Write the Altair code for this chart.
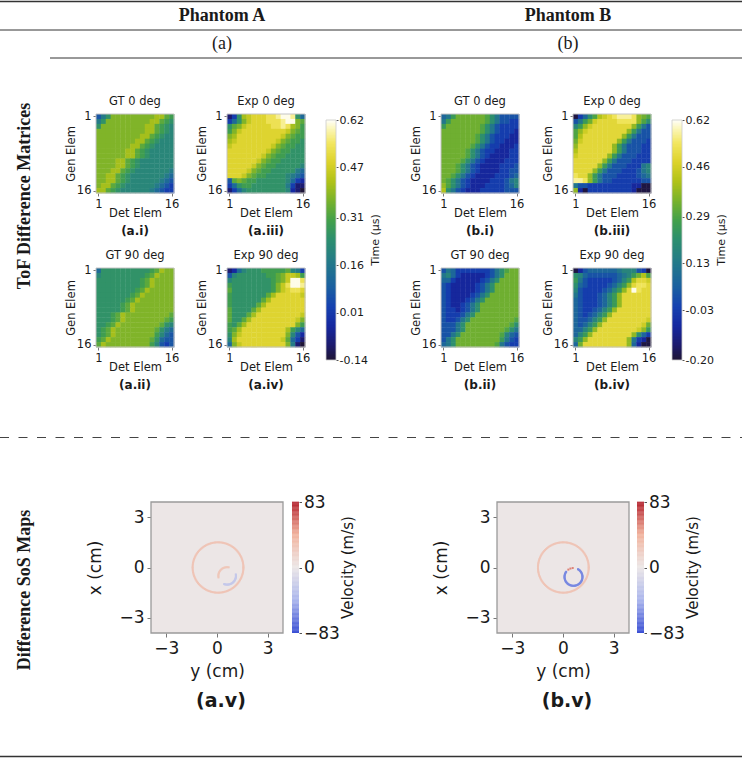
import numpy as np
import pandas as pd
import altair as alt

SANS = "DejaVu Sans"
SERIF = "Liberation Serif"
INK = "#1a1a1a"
W, H = 742, 758

# ---------------------------------------------------------------------------
# ToF difference matrices: one character per cell, rows = Gen Elem 1..16,
# columns = Det Elem 1..16.  LEVEL turns each character into microseconds.
# ---------------------------------------------------------------------------
LEVEL = {"0": -0.19, "1": -0.09, "2": -0.03, "3": 0.02, "4": 0.07, "5": 0.12,
         "6": 0.17, "7": 0.21, "8": 0.25, "9": 0.29, "a": 0.33, "b": 0.37,
         "c": 0.41, "d": 0.45, "e": 0.49, "f": 0.53, "g": 0.57, "h": 0.61}

A_GT0 = ["468b bbbb bbbb cca9", "68bb bbbb bbbc ca98", "8bbb bbbb bbcc a987",
         "bbbb bbbb bbcc a987", "bbbb bbbb bcca 9877", "bbbb bbbb cca9 8777",
         "bbbb bbbc ca98 7777", "bbbb bbcc a987 7777", "bbbb bbcc a987 7777",
         "bbbb cca9 8777 7777", "bbbb cca9 8777 7777", "bbbc ca98 7777 7776",
         "bbcc a987 7777 7765", "bbcc a987 7777 7654", "bcca 9877 7777 6543",
         "cca9 8777 7776 5433"]
A_GT90 = ["5888 8888 8889 acbb", "7888 8888 889a cbbb", "8888 8888 89ac bbbb",
          "8888 8888 89ac bbbb", "8888 8888 9acb bbbb", "8888 8889 acbb bbbb",
          "8888 889a cbbb bbbb", "8888 89ac bbbb bbbb", "8888 89ac bbbb bbbb",
          "8889 acbb bbbb bbba", "8889 acbb bbbb bba9", "889a cbbb bbbb ba87",
          "89ac bbbb bbbb a865", "89ac bbbb bbbb 9754", "9acb bbbb bbba 8544",
          "acbb bbbb bbb9 7434"]
A_EXP0 = ["138c deee ffgh hg85", "358b deee fffg hhba", "8abd eeee effg fcb9",
          "9bde eeee eeee dba9", "bcee eeee eeed ba99", "cdee eeee eedb a998",
          "deee eeee edba 9988", "eeee eeee dba9 9888", "eeee eeed ba99 8888",
          "eeee eedb a998 8888", "eeee edba 9988 8887", "eeee dba9 9888 8865",
          "eeed ba99 8888 7654", "4aba 9988 8888 7532", "3589 9888 8888 6311",
          "1357 8888 8888 7210"]
A_EXP90 = ["1257 8889 9999 a763", "4788 8888 99ab ddc9", "7888 8888 89ab dhhf",
           "9888 8888 89bd fhhg", "a888 8888 89bd effe", "9888 8888 acee eeed",
           "9888 888a ceee eeee", "9888 88ac eeee eeee", "a888 8ace eeee eeee",
           "a888 acee eeee eeed", "a88a ceee eeee eedb", "98ac eeee eeee eeb9",
           "9ace eeee eeee c975", "8bde eeee eeee b742", "7cee eeee eeed a531",
           "5bde eeee eeee b610"]

B_GT0 = ["458a aaaa a975 3333", "58aa aaaa a975 3322", "8aaa aaaa 9753 2222",
         "aaaa aaaa 9753 2221", "aaaa aaa9 7532 2211", "aaaa aaa9 7532 2111",
         "aaaa aa97 5322 1112", "aaaa a975 3221 1122", "aaaa a975 3211 1122",
         "aaaa 9753 2111 1222", "aaa9 7532 1111 2223", "aaa9 7532 1111 2233",
         "aa97 5321 1112 2234", "a975 3211 1122 2356", "b975 3211 1222 2346",
         "c753 2111 2222 2333"]
B_GT90 = ["3542 2222 2235 79aa", "5642 1111 1235 7aaa", "4421 1111 2357 aaaa",
          "3211 1112 357a aaaa", "3211 1112 357a aaaa", "3211 1123 57aa aaaa",
          "3211 1235 7aaa aaaa", "3211 2357 aaaa aaaa", "3221 2357 aaaa aaaa",
          "3222 357a aaaa aaaa", "3223 57aa aaaa aaa9", "3335 7aaa aaaa aa97",
          "3335 7aaa aaaa a975", "3357 aaaa aaaa 9643", "357a aaaa aaaa 8532",
          "457a aaaa aaa9 5322"]
B_EXP0 = ["0247 9cde fggg fba9", "358a deee efff fb97", "68bd eeee eeee b853",
          "9bde eeee eeeb 8533", "9cee eeee eeb8 5333", "adee eeee eb85 3332",
          "beee eeee b853 3322", "ceee eeee b853 3322", "deee eeeb 8533 3222",
          "eeee eeb8 5333 2222", "eeee eb85 3332 2256", "eeee b853 3322 2356",
          "feeb 8533 3222 2345", "ggfb 8533 2222 2233", "5332 2222 2222 1100",
          "b102 2222 2222 1000"]
B_EXP90 = ["0134 4444 4566 6320", "7643 3333 3456 8ac9", "8532 2222 3468 ceed",
           "7432 2223 468b effe", "6322 2234 68be hfee", "5322 2346 8bee eeee",
           "4322 2346 8bee eeee", "4322 2346 8bee eeee", "4322 3468 beee eeee",
           "4323 468b eeee eeee", "4334 68be eeee eeed", "4346 8bee eeee eeda",
           "4468 beee eeee edb8", "468b eeee eeee b742", "68be eeee eeeb 5210",
           "4aee eeee eeeb 4100"]

TOF_A_RANGE = (-0.14, 0.62)
TOF_A_TICKS = [-0.14, 0.01, 0.16, 0.31, 0.47, 0.62]
TOF_B_RANGE = (-0.20, 0.62)
TOF_B_TICKS = [-0.20, -0.03, 0.13, 0.29, 0.46, 0.62]

# colour map shared by both ToF colour bars (position along bar -> colour)
CMAP_T = [0.00, 0.06, 0.14, 0.22, 0.30, 0.40, 0.50, 0.58, 0.66, 0.74, 0.82, 0.90, 0.96, 1.00]
CMAP_C = ["#1e1538", "#1c1a6e", "#1528a0", "#1541b0", "#1a5fa0", "#23798a", "#2d8f6e",
          "#43a04a", "#78b22c", "#b0c218", "#dcd22a", "#f2e660", "#fbf6b8", "#ffffff"]

# ---------------------------------------------------------------------------
# Difference SoS maps
# ---------------------------------------------------------------------------
VEL_LIMIT = 83
VEL_STOPS = [-83, -41.5, 0, 41.5, 83]
VEL_COLORS = ["#3a4fd4", "#aab5ec", "#ece6e6", "#f1b29c", "#b3202c"]
MAP_EXTENT = 3.9          # cm, half width of the reconstructed field
MAP_TICKS = [-3, 0, 3]
BACKGROUND_VEL = 0

# circular inclusions that show up in the difference maps
RING_PHANTOM = ["A", "A", "A", "B", "B", "B"]
RING_YC = [0.06, 0.60, 0.60, 0.02, 0.62, 0.62]      # centre, y (cm)
RING_XC = [0.00, -0.50, -0.50, 0.00, -0.56, -0.56]  # centre, x (cm)
RING_R = [1.50, 0.52, 0.52, 1.50, 0.53, 0.53]       # radius (cm)
RING_FROM = [0, 80, 250, 0, 95, 145]                # arc start (deg)
RING_TO = [360, 190, 370, 360, 125, 420]            # arc end (deg)
RING_VEL = [27, 25, -25, 27, 55, -60]               # m/s
RING_DOTS = [120, 16, 24, 120, 3, 52]

# ---------------------------------------------------------------------------
# page layout: pixel boxes (left, right, top, bottom) of every panel
# ---------------------------------------------------------------------------
HM_BOX = {
    "A_GT0": (96, 174, 114, 193), "A_EXP0": (227, 305, 114, 193),
    "A_GT90": (96, 174, 268, 347), "A_EXP90": (227, 305, 268, 347),
    "B_GT0": (441, 519, 114, 193), "B_EXP0": (573, 651, 114, 193),
    "B_GT90": (441, 519, 268, 347), "B_EXP90": (573, 651, 268, 347),
}
TOF_BAR_BOX = {"A": (326, 336, 120, 360), "B": (672, 682, 120, 360)}
MAP_BOX = {"A": (151, 283, 502, 633), "B": (497, 629, 502, 633)}
VEL_BAR_BOX = {"A": (292, 299, 502, 633), "B": (637, 644, 502, 633)}
CELL_OVERLAP = 0.08   # hides hairline seams between neighbouring cells

ONE = pd.DataFrame({"k": [0]})


def px_scale(lo, hi, p0, p1):
    return alt.Scale(domain=[lo, hi], range=[p0, p1], nice=False, zero=False)


def rule(x1, x2, y, width=1.2, color="#333333", dash=None):
    kw = dict(color=color, strokeWidth=width)
    if dash:
        kw["strokeDash"] = dash
    return alt.Chart(ONE).mark_rule(**kw).encode(
        x=alt.value(x1), x2=alt.value(x2), y=alt.value(y))


def label(text, x, y, size, font=SANS, bold=False, angle=0, color=INK):
    return alt.Chart(ONE).mark_text(
        text=text, font=font, fontSize=size, fontWeight="bold" if bold else "normal",
        angle=angle, align="center", baseline="middle", color=color,
    ).encode(x=alt.value(x), y=alt.value(y))


def tof_scale(lo, hi):
    return alt.Scale(domain=[lo + t * (hi - lo) for t in CMAP_T], range=CMAP_C,
                     clamp=True, interpolate="rgb")


SCALE = {"A": tof_scale(*TOF_A_RANGE), "B": tof_scale(*TOF_B_RANGE)}
VEL_SCALE = alt.Scale(domain=VEL_STOPS, range=VEL_COLORS, clamp=True, interpolate="rgb")

HM_AXIS = dict(labelFont=SANS, titleFont=SANS, labelFontSize=11.5, titleFontSize=11.5,
               titleFontWeight="normal", labelColor=INK, titleColor=INK, domain=False,
               ticks=True, tickSize=3, tickColor="#555555", tickWidth=0.8, grid=False,
               labelPadding=2, values=[1, 16], format="d", labelFlush=False)


def heatmap(rows, key, phantom):
    x0, x1, y0, y1 = HM_BOX[key]
    recs = []
    for i, row in enumerate(rows):
        cells = row.replace(" ", "")
        assert len(cells) == 16, (key, i, row)
        for j, ch in enumerate(cells):
            recs.append({"dl": j + 0.5, "dr": j + 1.5 + CELL_OVERLAP,
                         "gt": i + 0.5, "gb": i + 1.5 + CELL_OVERLAP, "tof": LEVEL[ch]})
    xs = px_scale(0.5, 16.5, x0, x1)
    ys = px_scale(0.5, 16.5, y0, y1)
    x_axis = alt.Axis(orient="bottom", offset=y1 - H, title="Det Elem", titlePadding=-2,
                      **HM_AXIS)
    y_axis = alt.Axis(orient="left", offset=-x0, title="Gen Elem", titlePadding=0, **HM_AXIS)
    cells = alt.Chart(pd.DataFrame(recs)).mark_rect(strokeWidth=0).encode(
        x=alt.X("dl:Q", scale=xs, axis=x_axis), x2="dr:Q",
        y=alt.Y("gt:Q", scale=ys, axis=y_axis), y2="gb:Q",
        color=alt.Color("tof:Q", scale=SCALE[phantom], legend=None),
    )
    frame = alt.Chart(pd.DataFrame({"dl": [0.5], "dr": [16.5], "gt": [0.5], "gb": [16.5]})
                      ).mark_rect(fill="transparent", stroke="#c4c4c4", strokeWidth=1).encode(
        x=alt.X("dl:Q", scale=xs, axis=x_axis), x2="dr:Q",
        y=alt.Y("gt:Q", scale=ys, axis=y_axis), y2="gb:Q")
    return alt.layer(cells, frame)


def colorbar(box, cscale, lo, hi, ticks, fmt, label_size, minus, outline, tick=2.5, pad=2):
    x0, x1, y0, y1 = box
    n = 160
    step = (hi - lo) / n
    xs = px_scale(0, 1, x0, x1)
    ys = px_scale(lo, hi, y1, y0)
    y_axis = alt.Axis(orient="right", offset=x1 - W, values=ticks, format=fmt, title=None,
                      labelExpr=f"replace(datum.label, /[-\u2212]/, '{minus}')",
                      labelFont=SANS, labelFontSize=label_size, labelColor=INK,
                      labelFlush=False, labelOverlap=False, domain=False, grid=False,
                      tickSize=tick, tickColor="#555555", labelPadding=pad)
    bar = alt.Chart(alt.sequence(0, n, as_="k")).transform_calculate(
        v=f"{lo} + datum.k * {step}", top=f"{lo} + (datum.k + 1.4) * {step}",
        c0="0", c1="1",
    ).mark_rect(strokeWidth=0).encode(
        x=alt.X("c0:Q", scale=xs, axis=None), x2="c1:Q",
        y=alt.Y("v:Q", scale=ys, axis=y_axis), y2="top:Q",
        color=alt.Color("v:Q", scale=cscale, legend=None),
    )
    layers = [bar]
    if outline:
        layers.append(alt.Chart(pd.DataFrame({"c0": [0], "c1": [1], "v": [lo], "top": [hi]}))
                      .mark_rect(fill="transparent", stroke=outline, strokeWidth=0.8).encode(
            x=alt.X("c0:Q", scale=xs, axis=None), x2="c1:Q",
            y=alt.Y("v:Q", scale=ys, axis=y_axis), y2="top:Q"))
    return alt.layer(*layers)


# ring samples for the SoS maps
ring_rows = []
for k in range(len(RING_R)):
    for a in np.radians(np.linspace(RING_FROM[k], RING_TO[k], RING_DOTS[k])):
        ring_rows.append({"phantom": RING_PHANTOM[k],
                          "ya": RING_YC[k] + RING_R[k] * np.cos(a),
                          "xa": RING_XC[k] + RING_R[k] * np.sin(a),
                          "vel": RING_VEL[k]})
RINGS = pd.DataFrame(ring_rows)

MAP_AXIS = dict(values=MAP_TICKS, labelFont=SANS, titleFont=SANS, labelFontSize=17,
                titleFontSize=17, titleFontWeight="normal", labelColor=INK, titleColor=INK,
                domain=False, grid=False, tickSize=4, tickColor="#777777",
                labelPadding=3, labelFlush=False,
                labelExpr="replace(datum.label, '-', '\u2212')")


def sos_map(phantom):
    x0, x1, y0, y1 = MAP_BOX[phantom]
    xs = px_scale(-MAP_EXTENT, MAP_EXTENT, x0, x1)
    ys = px_scale(-MAP_EXTENT, MAP_EXTENT, y1, y0)
    x_axis = alt.Axis(orient="bottom", offset=y1 - H, title="y (cm)", titlePadding=7,
                      **MAP_AXIS)
    y_axis = alt.Axis(orient="left", offset=-x0, title="x (cm)", titlePadding=14, **MAP_AXIS)
    field = pd.DataFrame({"ya": [-MAP_EXTENT], "yb": [MAP_EXTENT],
                          "xa": [-MAP_EXTENT], "xb": [MAP_EXTENT], "vel": [BACKGROUND_VEL]})
    bg = alt.Chart(field).mark_rect(stroke="#9a9a9a", strokeWidth=1.3).encode(
        x=alt.X("ya:Q", scale=xs, axis=x_axis), x2="yb:Q",
        y=alt.Y("xa:Q", scale=ys, axis=y_axis), y2="xb:Q",
        color=alt.Color("vel:Q", scale=VEL_SCALE, legend=None),
    )
    dots = alt.Chart(RINGS[RINGS.phantom == phantom]).mark_square(size=4, opacity=1).encode(
        x=alt.X("ya:Q", scale=xs, axis=x_axis), y=alt.Y("xa:Q", scale=ys, axis=y_axis),
        color=alt.Color("vel:Q", scale=VEL_SCALE, legend=None),
    )
    return alt.layer(bg, dots)


MATRICES = {"A_GT0": A_GT0, "A_EXP0": A_EXP0, "A_GT90": A_GT90, "A_EXP90": A_EXP90,
            "B_GT0": B_GT0, "B_EXP0": B_EXP0, "B_GT90": B_GT90, "B_EXP90": B_EXP90}
PANEL_TITLE = {"GT0": "GT 0 deg", "EXP0": "Exp 0 deg", "GT90": "GT 90 deg", "EXP90": "Exp 90 deg"}
PANEL_TAG = {"GT0": "i", "GT90": "ii", "EXP0": "iii", "EXP90": "iv"}

layers = []
texts = []
for key, rows in MATRICES.items():
    phantom, kind = key.split("_")
    layers.append(heatmap(rows, key, phantom))
    x0, x1, y0, y1 = HM_BOX[key]
    texts.append(label(PANEL_TITLE[kind], (x0 + x1) / 2, y0 - 12.5, 11.5))
    texts.append(label(f"({phantom.lower()}.{PANEL_TAG[kind]})", (x0 + x1) / 2, y1 + 37.5,
                       12, bold=True))

for ph, lo_hi, ticks in (("A", TOF_A_RANGE, TOF_A_TICKS), ("B", TOF_B_RANGE, TOF_B_TICKS)):
    box = TOF_BAR_BOX[ph]
    layers.append(colorbar(box, SCALE[ph], lo_hi[0], lo_hi[1], ticks, ".2f", 11, "-",
                           "#cccccc", tick=2, pad=1))
    texts.append(label("Time (\u03bcs)", box[1] + 40, (box[2] + box[3]) / 2, 11,
                       angle=270))

for ph in ("A", "B"):
    layers.append(sos_map(ph))
    x0, x1, y0, y1 = MAP_BOX[ph]
    texts.append(label(f"({ph.lower()}.v)", (x0 + x1) / 2 + 4, y1 + 68, 19, bold=True))
    box = VEL_BAR_BOX[ph]
    layers.append(colorbar(box, VEL_SCALE, -VEL_LIMIT, VEL_LIMIT, [-83, 0, 83], "d", 17,
                           "\u2212", None))
    texts.append(label("Velocity (m/s)", box[1] + 49, (box[2] + box[3]) / 2, 15, angle=270))

# table frame, column heads and row heads
texts += [
    rule(0, W, 1.5, width=1.6),
    label("Phantom A", 222, 16, 18, SERIF, bold=True),
    label("Phantom B", 568, 16, 18, SERIF, bold=True),
    rule(0, W, 30, width=1.0),
    label("(a)", 222, 44, 18, SERIF),
    label("(b)", 568, 44, 18, SERIF),
    rule(50, W, 58, width=1.0),
    label("ToF Difference Matrices", 25, 196, 18, SERIF, bold=True, angle=270),
    rule(0, W, 437.5, width=1.2, color="#444444", dash=[9, 9.5]),
    label("Difference SoS Maps", 25, 590, 18, SERIF, bold=True, angle=270),
    rule(0, W, 756.5, width=1.6),
]

chart = alt.layer(*layers, *texts).resolve_scale(
    x="independent", y="independent", color="independent"
).properties(
    width=W, height=H, padding=0, autosize=alt.AutoSizeParams(type="none"),
).configure_view(stroke="transparent")

chart.save("out.html", embed_options={"renderer": "svg", "actions": False})
